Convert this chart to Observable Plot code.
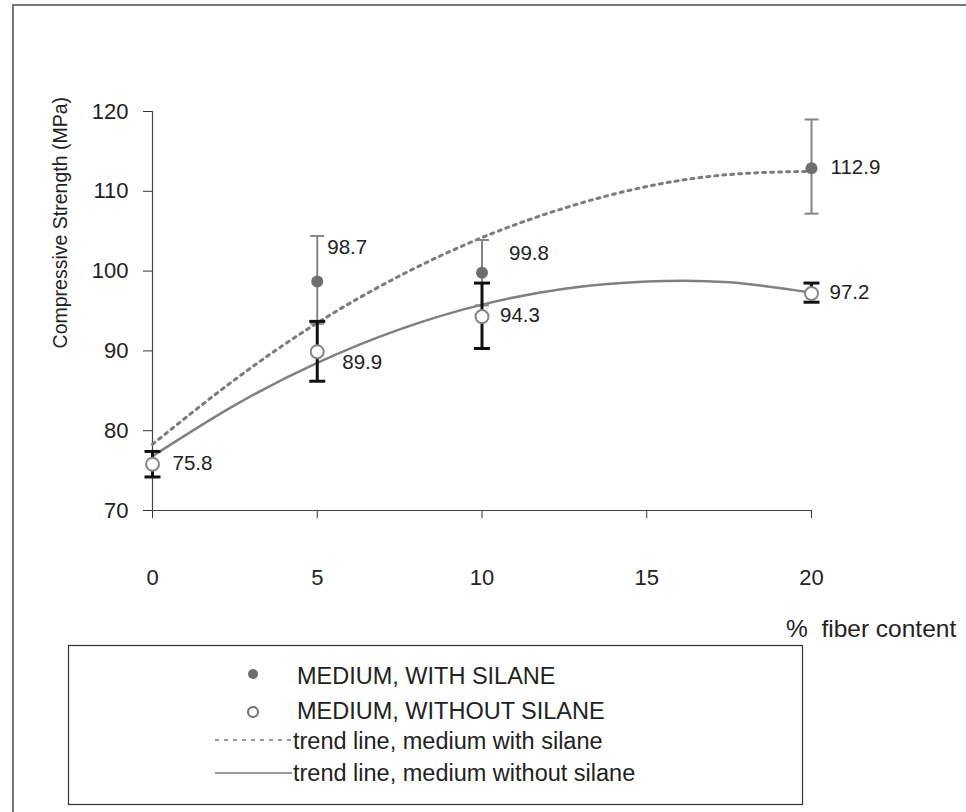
<!DOCTYPE html>
<html>
<head>
<meta charset="utf-8">
<script src="https://cdn.jsdelivr.net/npm/d3@7"></script>
<script src="https://cdn.jsdelivr.net/npm/@observablehq/plot@0.6"></script>
<style>
  body { margin: 0; background: #fff; }
  #wrap { position: relative; width: 966px; height: 812px; overflow: hidden; font-family: "Liberation Sans", Arial, sans-serif; }
  #chart { position: absolute; left: 0; top: 0; }
  #overlay { position: absolute; left: 0; top: 0; pointer-events: none; }
</style>
</head>
<body>
<div id="wrap">
  <div id="chart"></div>
  <svg id="overlay" width="966" height="812"></svg>
</div>
<script>
// ---- data ----
const fiber = [0, 5, 10, 20];
const withSilane = [75.8, 98.7, 99.8, 112.9];
const withSilaneLow = [null, 93.4, 95.7, 107.2];
const withSilaneHigh = [null, 104.4, 103.9, 119.0];
const withoutSilane = [75.8, 89.9, 94.3, 97.2];
const withoutSilaneLow = [74.2, 86.2, 90.3, 96.1];
const withoutSilaneHigh = [77.4, 93.7, 98.5, 98.5];
const withSilaneLabels = [null, "98.7", "99.8", "112.9"];
const withoutSilaneLabels = ["75.8", "89.9", "94.3", "97.2"];
const trendX = [0, 2.5, 5, 7.5, 10, 12.5, 15, 17.5, 20];
const trendWith = [78.3, 86.4, 93.5, 99.4, 104.2, 107.9, 110.6, 112.1, 112.5];
const trendWithout = [76.8, 83.2, 88.5, 92.7, 95.8, 97.8, 98.7, 98.6, 97.3];
const xTicks = [0, 5, 10, 15, 20];
const yTicks = [70, 80, 90, 100, 110, 120];
const yTitle = "Compressive Strength (MPa)";
const xTitle = "%  fiber content";
const legendLabels = ["MEDIUM, WITH SILANE", "MEDIUM, WITHOUT SILANE", "trend line, medium with silane", "trend line, medium without silane"];

// ---- tables ----
const idx = fiber.map((_, i) => i);
const trendWithData = trendX.map((x, i) => ({x, y: trendWith[i]}));
const trendWithoutData = trendX.map((x, i) => ({x, y: trendWithout[i]}));
const errWith = idx.filter(i => withSilaneLow[i] != null).map(i => ({x: fiber[i], lo: withSilaneLow[i], hi: withSilaneHigh[i]}));
const errWithout = idx.map(i => ({x: fiber[i], lo: withoutSilaneLow[i], hi: withoutSilaneHigh[i]}));

const cap = { draw(ctx, size) { const r = Math.sqrt(size / Math.PI); ctx.moveTo(-r, 0); ctx.lineTo(r, 0); } };

// label offsets (styling, in px)
const withOff = [null, [10, -34], [27, -19], [19, -1]];
const withoutOff = [[20, -1], [25, 11], [18, -1], [18, -1]];

const labelMarks = [];
idx.forEach(i => {
  if (withSilaneLabels[i]) labelMarks.push(Plot.text([i], {x: j => fiber[j], y: j => withSilane[j], text: j => withSilaneLabels[j], dx: withOff[i][0], dy: withOff[i][1], textAnchor: "start", lineAnchor: "middle", fontSize: 20.5, fill: "#222"}));
  labelMarks.push(Plot.text([i], {x: j => fiber[j], y: j => withoutSilane[j], text: j => withoutSilaneLabels[j], dx: withoutOff[i][0], dy: withoutOff[i][1], textAnchor: "start", lineAnchor: "middle", fontSize: 20.5, fill: "#222"}));
});

const chart = Plot.plot({
  width: 966,
  height: 640,
  marginLeft: 152,
  marginRight: 155,
  marginTop: 111,
  marginBottom: 130,
  x: {domain: [0, 20]},
  y: {domain: [70, 120]},
  style: {fontFamily: "'Liberation Sans', Arial, sans-serif", fontSize: "22px", color: "#333", background: "transparent", overflow: "visible"},
  marks: [
    Plot.axisY({ticks: yTicks, tickSize: 9, tickPadding: 15, label: null, fontSize: 22, fill: "#222"}),
    Plot.axisX({ticks: xTicks, tickSize: 8, tickPadding: 51, label: null, fontSize: 22, fill: "#222"}),
    Plot.ruleX([0], {stroke: "#444", strokeWidth: 1.2}),
    Plot.ruleY([70], {stroke: "#444", strokeWidth: 1.2}),
    Plot.line(trendWithData, {x: "x", y: "y", curve: "natural", stroke: "#7c7c7c", strokeWidth: 3, strokeDasharray: "3,5"}),
    Plot.line(trendWithoutData, {x: "x", y: "y", curve: "natural", stroke: "#808080", strokeWidth: 2.5}),
    Plot.ruleX(errWith, {x: "x", y1: "lo", y2: "hi", stroke: "#858585", strokeWidth: 2}),
    Plot.dot(errWith, {x: "x", y: "lo", symbol: cap, r: 7, stroke: "#858585", strokeWidth: 2}),
    Plot.dot(errWith, {x: "x", y: "hi", symbol: cap, r: 7, stroke: "#858585", strokeWidth: 2}),
    Plot.ruleX(errWithout, {x: "x", y1: "lo", y2: "hi", stroke: "#111", strokeWidth: 3}),
    Plot.dot(errWithout, {x: "x", y: "lo", symbol: cap, r: 8, stroke: "#111", strokeWidth: 3}),
    Plot.dot(errWithout, {x: "x", y: "hi", symbol: cap, r: 8, stroke: "#111", strokeWidth: 3}),
    Plot.dot(idx, {x: i => fiber[i], y: i => withSilane[i], r: 6, fill: "#6e6e6e", stroke: "none"}),
    Plot.dot(idx, {x: i => fiber[i], y: i => withoutSilane[i], r: 6.5, fill: "#fff", stroke: "#858585", strokeWidth: 2}),
    ...labelMarks
  ]
});
document.getElementById("chart").appendChild(chart);

// ---- overlay: frame, axis titles, legend ----
const ov = d3.select("#overlay");
ov.append("path").attr("d", "M13,812 V5 H966").attr("fill", "none").attr("stroke", "#777").attr("stroke-width", 2);
ov.append("text").attr("transform", "translate(60,97) rotate(-90)").attr("text-anchor", "end").attr("dominant-baseline", "central")
  .attr("font-size", 19.5).attr("fill", "#222").text(yTitle);
ov.append("text").attr("x", 786).attr("y", 628).attr("dominant-baseline", "central").attr("font-size", 24.5)
  .attr("fill", "#222").style("white-space", "pre").attr("xml:space", "preserve").text(xTitle);

const lg = ov.append("g").attr("transform", "translate(68,645)");
lg.append("rect").attr("x", 0.5).attr("y", 0.5).attr("width", 734).attr("height", 159).attr("fill", "#fff").attr("stroke", "#333").attr("stroke-width", 1.2);
lg.append("circle").attr("cx", 185).attr("cy", 29).attr("r", 5).attr("fill", "#6e6e6e");
lg.append("circle").attr("cx", 185).attr("cy", 67).attr("r", 5).attr("fill", "#fff").attr("stroke", "#6e6e6e").attr("stroke-width", 2);
lg.append("line").attr("x1", 147).attr("x2", 224).attr("y1", 95).attr("y2", 95).attr("stroke", "#777").attr("stroke-width", 1.5).attr("stroke-dasharray", "4,5");
lg.append("line").attr("x1", 147).attr("x2", 224).attr("y1", 128).attr("y2", 128).attr("stroke", "#777").attr("stroke-width", 1.5);
const lx = [229, 229, 225, 225];
const ly = [31, 66, 96, 128];
legendLabels.forEach((t, i) => {
  lg.append("text").attr("x", lx[i]).attr("y", ly[i]).attr("dominant-baseline", "central").attr("font-size", 23.5).attr("fill", "#222").text(t);
});
</script>
</body>
</html>
